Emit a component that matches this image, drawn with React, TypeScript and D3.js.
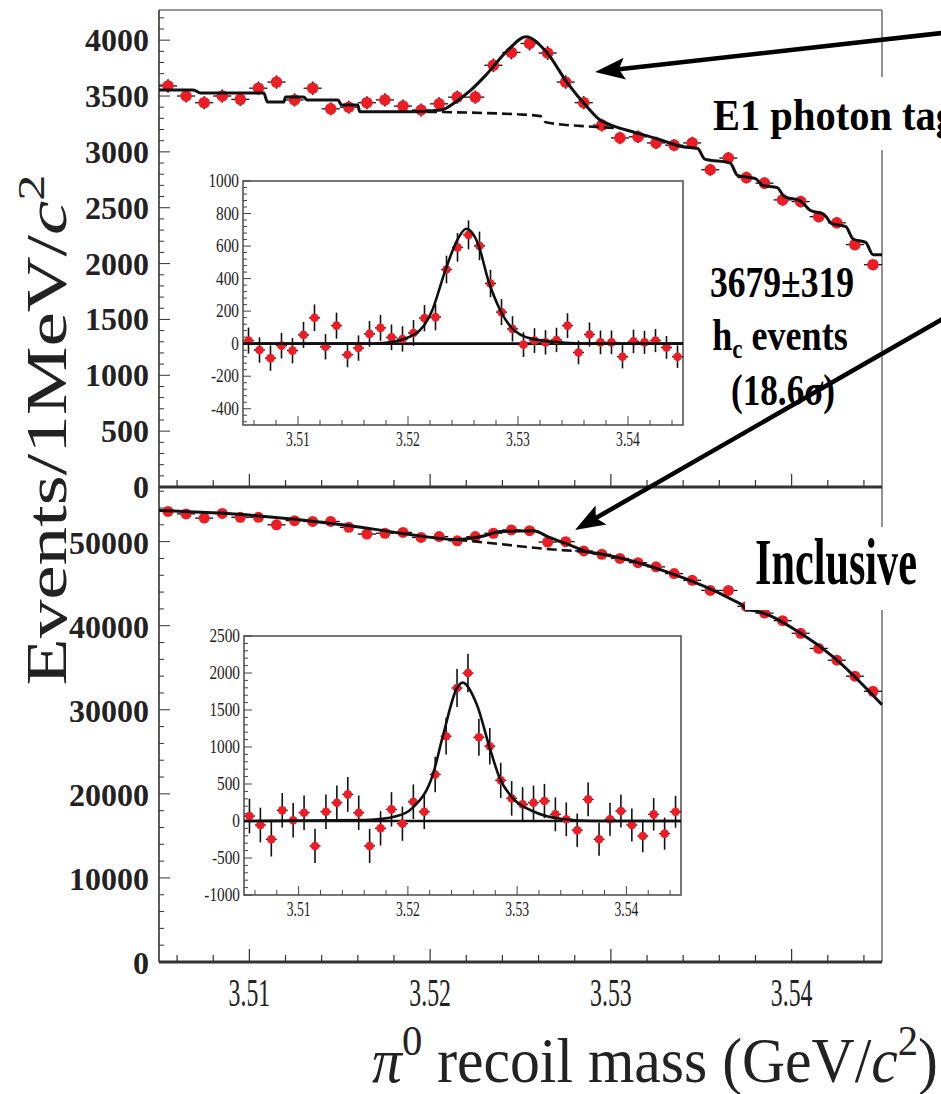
import React from "react";
import * as d3 from "d3";

// bin centres, 1 MeV bins
const binCenters = [
  3.5055, 3.5065, 3.5075, 3.5085, 3.5095, 3.5105, 3.5115, 3.5125, 3.5135, 3.5145,
  3.5155, 3.5165, 3.5175, 3.5185, 3.5195, 3.5205, 3.5215, 3.5225, 3.5235, 3.5245,
  3.5255, 3.5265, 3.5275, 3.5285, 3.5295, 3.5305, 3.5315, 3.5325, 3.5335, 3.5345,
  3.5355, 3.5365, 3.5375, 3.5385, 3.5395, 3.5405, 3.5415, 3.5425, 3.5435, 3.5445,
];

// E1 photon tagged spectrum
const taggedCounts = [
  3590, 3500, 3440, 3500, 3470, 3570, 3625, 3465, 3570, 3385,
  3400, 3440, 3465, 3410, 3375, 3430, 3490, 3490, 3775, 3890,
  3970, 3885, 3625, 3440, 3240, 3125, 3135, 3080, 3060, 3080,
  2840, 2945, 2770, 2720, 2570, 2555, 2420, 2365, 2170, 1990,
];
const taggedErrors = [
  60, 59, 59, 59, 59, 60, 60, 59, 60, 58,
  58, 59, 59, 58, 58, 59, 59, 59, 61, 62,
  63, 62, 60, 59, 57, 56, 56, 55, 55, 55,
  53, 54, 53, 52, 51, 51, 49, 49, 47, 45,
];
const taggedFit: [number, number][] = [
  [3.505, 3554], [3.5069, 3554], [3.5073, 3527], [3.5108, 3527], [3.511, 3446],
  [3.5119, 3446], [3.512, 3491], [3.513, 3491], [3.5132, 3464], [3.5149, 3464],
  [3.5151, 3420], [3.516, 3420], [3.5161, 3360], [3.519, 3360], [3.5206, 3375],
  [3.5214, 3445], [3.5222, 3545], [3.5231, 3690], [3.5243, 3910], [3.5253, 4030],
  [3.5264, 3900], [3.5276, 3616], [3.5287, 3400], [3.5294, 3285], [3.53, 3240],
  [3.5312, 3180], [3.5325, 3120], [3.534, 3045], [3.5348, 3030], [3.5352, 2935],
  [3.5366, 2900], [3.537, 2790], [3.538, 2760], [3.5384, 2700], [3.5392, 2680],
  [3.5396, 2600], [3.5405, 2560], [3.541, 2480], [3.5418, 2440], [3.5422, 2360],
  [3.543, 2330], [3.5434, 2220], [3.5441, 2190], [3.5445, 2080], [3.545, 2080],
];
const taggedBkg: [number, number][] = [
  [3.519, 3360], [3.525, 3335], [3.5261, 3320], [3.5264, 3265], [3.529, 3225], [3.5305, 3212],
];

// inclusive spectrum
const inclusiveCounts = [
  53600, 53300, 52800, 53350, 52900, 52900, 52000, 52500, 52400, 52400,
  51700, 50900, 51000, 51100, 50500, 50600, 50100, 50600, 51000, 51400,
  51300, 49950, 50000, 48900, 48500, 48000, 47500, 47000, 46200, 45400,
  44200, 44200, 42300, 41500, 40600, 39100, 37300, 35900, 34000, 32200,
];
const inclusiveErrors = [
  232, 231, 230, 231, 230, 230, 228, 229, 229, 229,
  227, 226, 226, 226, 225, 225, 224, 225, 226, 227,
  226, 224, 224, 221, 220, 219, 218, 217, 215, 213,
  210, 210, 206, 204, 202, 198, 193, 189, 184, 179,
];
const inclusiveFit: [number, number][] = [
  [3.505, 53700], [3.5101, 53150], [3.5156, 51900], [3.5184, 51000], [3.5215, 50250],
  [3.523, 50700], [3.5239, 51200], [3.5257, 51300], [3.5266, 50500], [3.5276, 49700],
  [3.5287, 48800], [3.5294, 48550], [3.5331, 46400], [3.5368, 43000], [3.5373, 42400],
  [3.5375, 41900], [3.5379, 41800], [3.5405, 39100], [3.5423, 36300], [3.545, 30600],
];
const inclusiveBkg: [number, number][] = [
  [3.5215, 50250], [3.5239, 49700], [3.5266, 49100], [3.5287, 48800],
];

// background-subtracted insets
const taggedSignal = [
  19, -39, -89, -12, -43, 54, 159, -19, 111, -68,
  -27, 60, 97, 39, 29, 66, 157, 163, 456, 592,
  669, 601, 370, 194, 91, -6, 19, 8, 23, 111,
  -54, 56, 8, 8, -80, 14, 8, 19, -23, -80,
];
const taggedSignalErrors = [
  80, 78, 78, 79, 78, 80, 82, 78, 80, 77,
  78, 79, 80, 79, 78, 79, 81, 81, 85, 88,
  89, 88, 84, 80, 78, 76, 76, 75, 75, 76,
  73, 74, 73, 73, 72, 72, 71, 71, 70, 69,
];
const taggedSignalFit: [number, number][] = [
  [3.505, 0], [3.516, 0], [3.518, 6], [3.5207, 62], [3.5222, 204], [3.5234, 452],
  [3.5245, 640], [3.5253, 706], [3.5264, 607], [3.5273, 390], [3.5284, 204],
  [3.5294, 99], [3.5312, 31], [3.5343, 6], [3.537, 0], [3.545, 0],
];

const inclusiveSignal = [
  67, -54, -247, 144, 9, 112, -337, 125, 247, 360,
  112, -337, -99, 157, -36, 260, 125, 629, 1146, 1797,
  1999, 1132, 1011, 549, 306, 225, 247, 270, 90, 23,
  -125, 292, -247, 23, 135, -54, -202, 90, -171, 125,
];
const inclusiveSignalErrors = [
  235, 234, 233, 234, 233, 234, 232, 234, 234, 235,
  233, 231, 232, 233, 232, 234, 234, 240, 248, 256,
  260, 250, 246, 238, 234, 232, 232, 231, 229, 228,
  226, 227, 224, 224, 224, 222, 220, 219, 217, 216,
];
const inclusiveSignalFit: [number, number][] = [
  [3.505, 0], [3.5162, 13], [3.519, 67], [3.5204, 175], [3.5223, 633], [3.5232, 1146],
  [3.5245, 1797], [3.525, 1870], [3.5263, 1577], [3.5275, 984], [3.5284, 580],
  [3.5296, 310], [3.5314, 135], [3.5341, 27], [3.537, 0], [3.545, 0],
];

// tick labels
const massTicks = [3.51, 3.52, 3.53, 3.54];
const taggedTicks = [0, 500, 1000, 1500, 2000, 2500, 3000, 3500, 4000];
const inclusiveTicks = [0, 10000, 20000, 30000, 40000, 50000];
const taggedSignalTicks = [-400, -200, 0, 200, 400, 600, 800, 1000];
const inclusiveSignalTicks = [-1000, -500, 0, 500, 1000, 1500, 2000, 2500];

const SERIF = "'Liberation Serif', 'Times New Roman', serif";
const RED = "#ee1c25";

const xMain = d3.scaleLinear().domain([3.505, 3.545]).range([159, 882]);
const yTag = d3.scaleLinear().domain([0, 4270]).range([487, 10]);
const yInc = d3.scaleLinear().domain([0, 56500]).range([962, 487]);

const isMajorMass = (m: number) => Math.abs(m * 100 - Math.round(m * 100)) < 1e-6;
const minorMass = d3.range(0, 20).map((i) => 3.506 + i * 0.002);

const stepRange = (lo: number, hi: number, step: number) =>
  d3.range(Math.ceil(lo / step), Math.floor(hi / step) + 1).map((k) => k * step);

const Points = ({ x, y, counts, errors, r }: any) => (
  <g>
    {binCenters.map((m, i) => (
      <g key={i}>
        <line x1={x(m - 0.0005)} x2={x(m + 0.0005)} y1={y(counts[i])} y2={y(counts[i])} stroke="#111" strokeWidth={1.3} />
        <line x1={x(m)} x2={x(m)} y1={y(counts[i] - errors[i])} y2={y(counts[i] + errors[i])} stroke="#111" strokeWidth={1.6} />
        <circle cx={x(m)} cy={y(counts[i])} r={r} fill={RED} />
      </g>
    ))}
  </g>
);

const Inset = ({ x, y, counts, errors, fit, ticks, minorStep, majorStep }: any) => {
  const [x0, x1] = x.range();
  const [yb, yt] = y.range();
  const [d0, d1] = y.domain();
  const line = d3
    .line<[number, number]>()
    .x((d) => x(d[0]))
    .y((d) => y(d[1]))
    .curve(d3.curveMonotoneX);
  return (
    <g>
      <rect x={x0} y={yt} width={x1 - x0} height={yb - yt} fill="#fff" stroke="#555" strokeWidth={1.6} />
      {stepRange(d0, d1, minorStep).map((v) => {
        const major = Math.abs(v / majorStep - Math.round(v / majorStep)) < 1e-6;
        return <line key={"y" + v} x1={x0} x2={x0 + (major ? 8 : 4)} y1={y(v)} y2={y(v)} stroke="#444" strokeWidth={1} />;
      })}
      {minorMass.map((m) => (
        <line key={"x" + m} x1={x(m)} x2={x(m)} y1={yb} y2={yb - (isMajorMass(m) ? 9 : 5)} stroke="#444" strokeWidth={1} />
      ))}
      {ticks.map((t: number) => (
        <text key={t} transform={`translate(${x0 - 4},${y(t) + 6}) scale(0.85,1)`} textAnchor="end" fontFamily={SERIF} fontSize={18} fill="#222">
          {t < 0 ? "-" + Math.abs(t) : t}
        </text>
      ))}
      {massTicks.map((t) => (
        <text key={t} transform={`translate(${x(t)},${yb + 21}) scale(0.62,1)`} textAnchor="middle" fontFamily={SERIF} fontSize={22} fill="#222">
          {t.toFixed(2)}
        </text>
      ))}
      <line x1={x0} x2={x1} y1={y(0)} y2={y(0)} stroke="#111" strokeWidth={2.6} />
      <Points x={x} y={y} counts={counts} errors={errors} r={4.3} />
      <path d={line(fit) || ""} fill="none" stroke="#111" strokeWidth={2.6} />
    </g>
  );
};

const Arrow = ({ x1, y1, x2, y2 }: any) => {
  const dx = x2 - x1;
  const dy = y2 - y1;
  const len = Math.hypot(dx, dy);
  const ux = dx / len;
  const uy = dy / len;
  const L = 30;
  const w = 11;
  const bx = x2 - ux * L;
  const by = y2 - uy * L;
  const pts = [
    [x2, y2],
    [bx - uy * w, by + ux * w],
    [bx + ux * 6, by + uy * 6],
    [bx + uy * w, by - ux * w],
  ];
  return (
    <g>
      <line x1={x1} y1={y1} x2={bx + ux * 8} y2={by + uy * 8} stroke="#000" strokeWidth={4.5} />
      <polygon points={pts.map((p) => p.join(",")).join(" ")} fill="#000" />
    </g>
  );
};

const App = () => {
  const fitLine = (y: any) =>
    d3
      .line<[number, number]>()
      .x((d) => xMain(d[0]))
      .y((d) => y(d[1]))
      .curve(d3.curveMonotoneX);

  const [L, R] = xMain.range();

  return (
    <svg width={941} height={1094} style={{ position: "absolute", left: 0, top: 0, background: "#fff" }}>
      {/* frame */}
      <line x1={L} x2={R} y1={10} y2={10} stroke="#777" strokeWidth={1.6} />
      <line x1={R} x2={R} y1={10} y2={962} stroke="#777" strokeWidth={1.6} />
      <line x1={L} x2={L} y1={10} y2={962} stroke="#333" strokeWidth={1.6} />

      {/* y ticks */}
      {stepRange(0, 4270, 100).map((v) => (
        <line key={"ty" + v} x1={L} x2={L + (v % 500 === 0 ? 11 : 5)} y1={yTag(v)} y2={yTag(v)} stroke="#333" strokeWidth={1} />
      ))}
      {stepRange(0, 56500, 2000).map((v) => (
        <line key={"iy" + v} x1={L} x2={L + (v % 10000 === 0 ? 11 : 5)} y1={yInc(v)} y2={yInc(v)} stroke="#333" strokeWidth={1} />
      ))}
      {taggedTicks.map((t) => (
        <text key={"tl" + t} x={149} y={yTag(t) + 11} textAnchor="end" fontFamily={SERIF} fontWeight="bold" fontSize={32} fill="#222">
          {t}
        </text>
      ))}
      {inclusiveTicks.map((t) => (
        <text key={"il" + t} x={149} y={yInc(t) + 12} textAnchor="end" fontFamily={SERIF} fontWeight="bold" fontSize={32} fill="#222">
          {t}
        </text>
      ))}

      {/* x ticks on divider and bottom axis */}
      {minorMass.map((m) => (
        <g key={"mx" + m}>
          <line x1={xMain(m)} x2={xMain(m)} y1={yTag(0)} y2={yTag(0) - (isMajorMass(m) ? 13 : 7)} stroke="#333" strokeWidth={1.2} />
          <line x1={xMain(m)} x2={xMain(m)} y1={yInc(0)} y2={yInc(0) - (isMajorMass(m) ? 13 : 7)} stroke="#333" strokeWidth={1.2} />
        </g>
      ))}
      <line x1={L} x2={R} y1={yTag(0)} y2={yTag(0)} stroke="#333" strokeWidth={3.2} />
      <line x1={L} x2={R} y1={yInc(0)} y2={yInc(0)} stroke="#333" strokeWidth={3.2} />
      {massTicks.map((t) => (
        <text key={"xl" + t} transform={`translate(${xMain(t)},${1006}) scale(0.58,1)`} textAnchor="middle" fontFamily={SERIF} fontSize={41} fill="#222">
          {t.toFixed(2)}
        </text>
      ))}

      {/* insets */}
      <Inset
        x={d3.scaleLinear().domain([3.505, 3.545]).range([243, 683])}
        y={d3.scaleLinear().domain([-500, 1000]).range([425, 181])}
        counts={taggedSignal}
        errors={taggedSignalErrors}
        fit={taggedSignalFit}
        ticks={taggedSignalTicks}
        minorStep={40}
        majorStep={200}
      />
      <Inset
        x={d3.scaleLinear().domain([3.505, 3.545]).range([244, 681])}
        y={d3.scaleLinear().domain([-1000, 2500]).range([895, 636])}
        counts={inclusiveSignal}
        errors={inclusiveSignalErrors}
        fit={inclusiveSignalFit}
        ticks={inclusiveSignalTicks}
        minorStep={100}
        majorStep={500}
      />

      {/* main spectra */}
      <Points x={xMain} y={yTag} counts={taggedCounts} errors={taggedErrors} r={5.8} />
      <path d={fitLine(yTag)(taggedBkg) || ""} fill="none" stroke="#111" strokeWidth={2.6} strokeDasharray="10,5" />
      <path d={fitLine(yTag)(taggedFit) || ""} fill="none" stroke="#111" strokeWidth={3} />

      <Points x={xMain} y={yInc} counts={inclusiveCounts} errors={inclusiveErrors} r={5.5} />
      <path d={fitLine(yInc)(inclusiveBkg) || ""} fill="none" stroke="#111" strokeWidth={2.6} strokeDasharray="10,5" />
      <path d={fitLine(yInc)(inclusiveFit) || ""} fill="none" stroke="#111" strokeWidth={3} />

      {/* labels */}
      <rect x={702} y={77} width={239} height={73} fill="#fff" />
      <text transform="translate(713,130) scale(0.9,1)" fontFamily={SERIF} fontWeight="bold" fontSize={45} fill="#000">
        E1 photon tag
      </text>
      <rect x={745} y={527} width={196} height={83} fill="#fff" />
      <text transform="translate(755,584) scale(0.64,1)" fontFamily={SERIF} fontWeight="bold" fontSize={66} fill="#000">
        Inclusive
      </text>

      <g fontFamily={SERIF} fontWeight="bold" fontSize={44} fill="#000" textAnchor="middle">
        <text transform="translate(782,297) scale(0.81,1)">3679±319</text>
        <text transform="translate(780,350) scale(0.82,1)">
          h<tspan fontSize={28} dy={8}>c</tspan>
          <tspan dy={-8}> events</tspan>
        </text>
        <text transform="translate(783,405) scale(0.8,1)">(18.6σ)</text>
      </g>

      <Arrow x1={960} y1={31} x2={595} y2={72} />
      <Arrow x1={960} y1={309} x2={575} y2={530} />

      {/* axis titles */}
      <text transform="translate(66,430) scale(1,1.38) rotate(-90)" textAnchor="middle" fontFamily={SERIF} fontSize={56} fill="#222">
        Events/1MeV/<tspan fontStyle="italic">c</tspan>
        <tspan fontSize={38} dy={-22}>2</tspan>
      </text>
      <text transform="translate(372,1082) scale(1.27,1.35)" fontFamily={SERIF} fontSize={47} fill="#222">
        <tspan fontStyle="italic">π</tspan>
        <tspan fontSize={32} dy={-20}>0</tspan>
        <tspan dy={20}> recoil mass (GeV/</tspan>
        <tspan fontStyle="italic">c</tspan>
        <tspan fontSize={32} dy={-20}>2</tspan>
        <tspan dy={20}>)</tspan>
      </text>
    </svg>
  );
};

export default App;
